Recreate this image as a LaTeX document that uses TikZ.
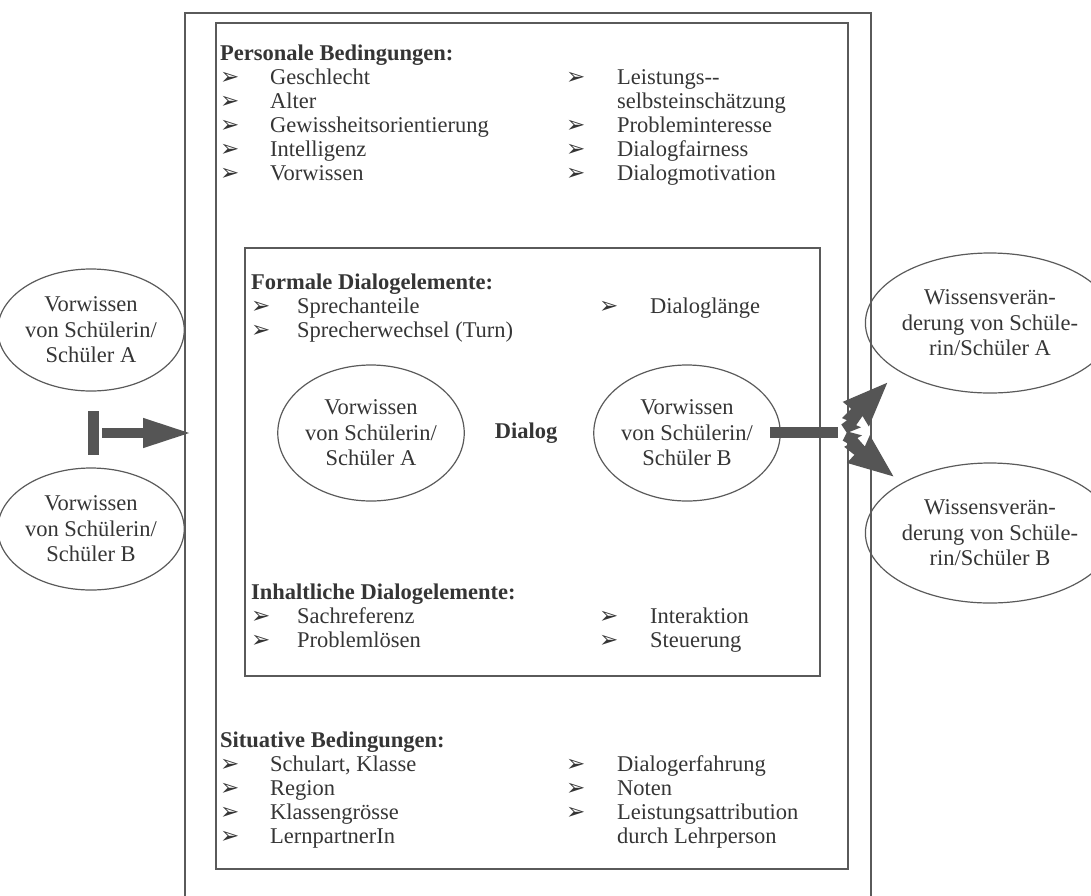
\documentclass[tikz,border=0pt]{standalone}
\usepackage{fontspec}
\setmainfont{Liberation Serif}
\newfontfamily\dingfont{DejaVu Sans}
\usetikzlibrary{shapes.geometric,arrows.meta}
\definecolor{ink}{HTML}{353535}
\definecolor{framecol}{HTML}{5A5A5A}
\definecolor{arrowcol}{HTML}{555555}
\newcommand\dingbul{{\dingfont\fontsize{23}{23}\selectfont ➢}}
\newcommand\mybul[1][48pt]{\makebox[#1][l]{\dingbul}}
\newcommand\nobul[1][48pt]{\hspace*{#1}}
\newcommand\boltshape{(64,0) -- (20,18) -- (23,6) -- (12,8) -- (14,13) -- (0,7) -- (2,-3) -- (9,-2) -- (7,-7) -- (20,-7) -- (19,-18) -- cycle}
\begin{document}
\begin{tikzpicture}[x=1pt,y=-1pt,
  frameline/.style={draw=framecol,line width=1.6pt},
  oval/.style={ellipse,draw=framecol,line width=1.2pt,inner sep=0pt,align=center,text=ink,font=\fontsize{22.5}{25.5}\selectfont},
  listtext/.style={anchor=base west,inner sep=0pt,text=ink,font=\fontsize{22.5}{24}\selectfont},
  blockfill/.style={rectangle,fill=arrowcol,draw=none,inner sep=0pt},
  blockarrow/.style={draw=arrowcol,line width=10pt,-{Triangle[length=49pt,width=27pt]}}
]
\useasboundingbox (0,0) rectangle (1091,895);
% frames
\draw[frameline] (185,915) -- (185,13) -- (871,13) -- (871,915);
\draw[frameline] (216,23) rectangle (848,869);
\draw[frameline] (245,248) rectangle (820,676);

% Personale Bedingungen
\node[listtext] (persL) at (220,60) {\begin{tabular}[t]{@{}l@{}l@{}}
\multicolumn{2}{@{}l@{}}{\bfseries Personale Bedingungen:}\\
\mybul[50pt] & Geschlecht\\
\mybul[50pt] & Alter\\
\mybul[50pt] & Gewissheitsorientierung\\
\mybul[50pt] & Intelligenz\\
\mybul[50pt] & Vorwissen
\end{tabular}};
\node[listtext] (persR) at (566,84) {\begin{tabular}[t]{@{}l@{}l@{}}
\mybul[51pt] & Leistungs-{}-\\
\nobul[51pt] & selbsteinschätzung\\
\mybul[51pt] & Probleminteresse\\
\mybul[51pt] & Dialogfairness\\
\mybul[51pt] & Dialogmotivation
\end{tabular}};

% Formale Dialogelemente
\node[listtext] (formL) at (251,289) {\begin{tabular}[t]{@{}l@{}l@{}}
\multicolumn{2}{@{}l@{}}{\bfseries Formale Dialogelemente:}\\
\mybul[46pt] & Sprechanteile\\
\mybul[46pt] & Sprecherwechsel (Turn)
\end{tabular}};
\node[listtext] (formR) at (599,313) {\begin{tabular}[t]{@{}l@{}l@{}}
\mybul[51pt] & Dialoglänge
\end{tabular}};

% Dialog
\node[oval,minimum width=158pt,minimum height=136pt] (dA) at (371,433) {Vorwissen\\von Schülerin/\\Schüler A};
\node[oval,minimum width=158pt,minimum height=136pt] (dB) at (687,433) {Vorwissen\\von Schülerin/\\Schüler B};
\node[text=ink,font=\fontsize{22.5}{25}\selectfont\bfseries,inner sep=0pt] (dlg) at (526,433) {Dialog};

% Inhaltliche Dialogelemente
\node[listtext] (inhL) at (251,599) {\begin{tabular}[t]{@{}l@{}l@{}}
\multicolumn{2}{@{}l@{}}{\bfseries Inhaltliche Dialogelemente:}\\
\mybul[46pt] & Sachreferenz\\
\mybul[46pt] & Problemlösen
\end{tabular}};
\node[listtext] (inhR) at (599,623) {\begin{tabular}[t]{@{}l@{}l@{}}
\mybul[51pt] & Interaktion\\
\mybul[51pt] & Steuerung
\end{tabular}};

% Situative Bedingungen
\node[listtext] (sitL) at (220,747) {\begin{tabular}[t]{@{}l@{}l@{}}
\multicolumn{2}{@{}l@{}}{\bfseries Situative Bedingungen:}\\
\mybul[50pt] & Schulart, Klasse\\
\mybul[50pt] & Region\\
\mybul[50pt] & Klassengrösse\\
\mybul[50pt] & LernpartnerIn
\end{tabular}};
\node[listtext] (sitR) at (566,771) {\begin{tabular}[t]{@{}l@{}l@{}}
\mybul[51pt] & Dialogerfahrung\\
\mybul[51pt] & Noten\\
\mybul[51pt] & Leistungsattribution\\
\nobul[51pt] & durch Lehrperson
\end{tabular}};

% left ellipses and arrow
\node[oval,minimum width=166pt,minimum height=122pt] (lA) at (91,330) {Vorwissen\\von Schülerin/\\Schüler A};
\node[oval,minimum width=166pt,minimum height=122pt] (lB) at (91,529) {Vorwissen\\von Schülerin/\\Schüler B};
\node[blockfill,minimum width=11pt,minimum height=44pt] (lbar) at (93.5,433) {};
\coordinate (ltip) at (192,433);
\draw[blockarrow] ([xshift=3pt]lbar.east) -- (ltip);

% right ellipses and arrows
\node[oval,minimum width=194pt,minimum height=140pt] (rA) at (990,323) {Wissensverän-\\derung von Schüle-\\rin/Schüler A};
\node[oval,minimum width=194pt,minimum height=140pt] (rB) at (990,533) {Wissensverän-\\derung von Schüle-\\rin/Schüler B};
\node[blockfill,minimum width=68pt,minimum height=11pt] (rbar) at (804,432.5) {};
\coordinate (boltA) at (842,428);
\coordinate (boltB) at (843,437);
\fill[arrowcol,shift={(boltA)},rotate=45] \boltshape;
\fill[arrowcol,shift={(boltB)},rotate=-38,yscale=-1] \boltshape;
\end{tikzpicture}
\end{document}
